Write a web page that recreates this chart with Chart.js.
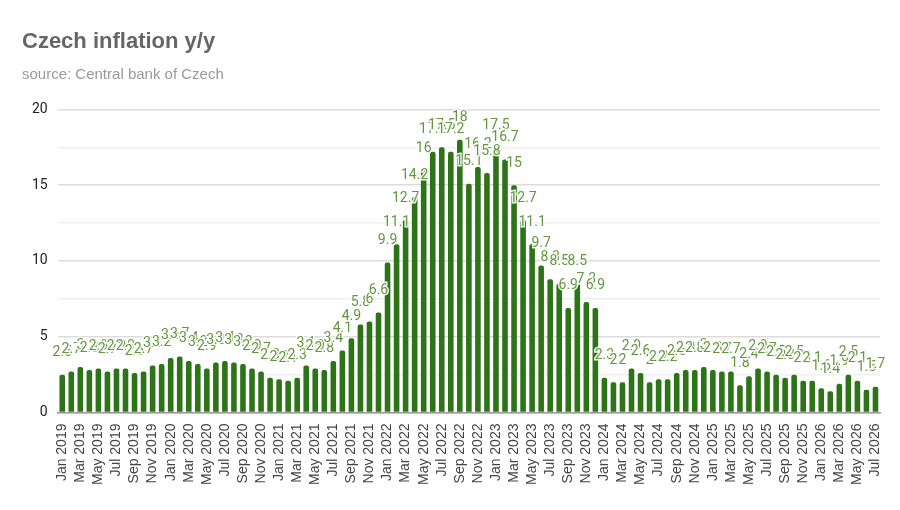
<!DOCTYPE html>
<html lang="en">
<head>
    <meta charset="UTF-8">
    <title>Czech inflation y/y</title>
    <style>
        * { margin: 0; padding: 0; box-sizing: border-box; }
        body { background: #fff; width: 900px; height: 510px; overflow: hidden; }
        .wrap { position: relative; width: 900px; height: 510px; }
    </style>
    <script src="https://cdn.jsdelivr.net/npm/chart.js"></script>
</head>
<body>
    <div class="wrap">
        <canvas id="inflationChart"></canvas>
    </div>

    <script>
        const months = ['Jan', 'Feb', 'Mar', 'Apr', 'May', 'Jun', 'Jul', 'Aug', 'Sep', 'Oct', 'Nov', 'Dec'];
        const years = [2019, 2020, 2021, 2022, 2023, 2024, 2025, 2026];

        // month labels, Jan 2019 .. Jul 2026
        const labels = [];
        years.forEach(y => months.forEach((m, i) => {
            if (y < 2026 || i < 7) labels.push(m + ' ' + y);
        }));

        const infl2019 = [2.5, 2.7, 3.0, 2.8, 2.9, 2.7, 2.9, 2.9, 2.6, 2.7, 3.1, 3.2];
        const infl2020 = [3.6, 3.7, 3.4, 3.2, 2.9, 3.3, 3.4, 3.3, 3.2, 2.9, 2.7, 2.3];
        const infl2021 = [2.2, 2.1, 2.3, 3.1, 2.9, 2.8, 3.4, 4.1, 4.9, 5.8, 6.0, 6.6];
        const infl2022 = [9.9, 11.1, 12.7, 14.2, 16.0, 17.2, 17.5, 17.2, 18.0, 15.1, 16.2, 15.8];
        const infl2023 = [17.5, 16.7, 15.0, 12.7, 11.1, 9.7, 8.8, 8.5, 6.9, 8.5, 7.3, 6.9];
        const infl2024 = [2.3, 2.0, 2.0, 2.9, 2.6, 2.0, 2.2, 2.2, 2.6, 2.8, 2.8, 3.0];
        const infl2025 = [2.8, 2.7, 2.7, 1.8, 2.4, 2.9, 2.7, 2.5, 2.3, 2.5, 2.1, 2.1];
        const infl2026 = [1.6, 1.4, 1.9, 2.5, 2.1, 1.5, 1.7];

        const values = [].concat(infl2019, infl2020, infl2021, infl2022, infl2023, infl2024, infl2025, infl2026);

        // value labels drawn above each bar
        const barLabels = {
            id: 'barLabels',
            afterDatasetsDraw(chart) {
                const ctx = chart.ctx;
                const meta = chart.getDatasetMeta(0);
                ctx.save();
                ctx.font = '14px Roboto';
                ctx.textAlign = 'center';
                ctx.textBaseline = 'middle';
                ctx.lineWidth = 3;
                ctx.strokeStyle = 'rgba(255,255,255,0.9)';
                ctx.fillStyle = '#64963f';
                meta.data.forEach((bar, i) => {
                    const txt = String(values[i]);
                    ctx.strokeText(txt, bar.x, bar.y - 22);
                    ctx.fillText(txt, bar.x, bar.y - 22);
                });
                ctx.restore();
            }
        };

        new Chart(document.getElementById('inflationChart'), {
            type: 'bar',
            data: {
                labels: labels,
                datasets: [{
                    label: 'Inflation y/y',
                    data: values,
                    backgroundColor: '#2d7418',
                    borderRadius: { topLeft: 2, topRight: 2 },
                    borderSkipped: 'bottom',
                    categoryPercentage: 1,
                    barPercentage: 0.62,
                }],
            },
            options: {
                responsive: true,
                maintainAspectRatio: false,
                animation: false,
                layout: { padding: { left: 22, right: 20, top: 0, bottom: 22 } },
                plugins: {
                    legend: { display: false },
                    tooltip: { enabled: false },
                    title: {
                        display: true,
                        text: 'Czech inflation y/y',
                        align: 'start',
                        color: '#666',
                        font: { family: 'Arial', size: 22, weight: 'bold' },
                        padding: { top: 29, bottom: 10 },
                    },
                    subtitle: {
                        display: true,
                        text: 'source: Central bank of Czech',
                        align: 'start',
                        color: '#9a9a9a',
                        font: { family: 'Arial', size: 15 },
                        padding: { bottom: 26 },
                    },
                },
                scales: {
                    x: {
                        grid: { display: false },
                        border: { color: '#999', width: 1.5 },
                        ticks: {
                            autoSkip: false,
                            maxRotation: 90,
                            minRotation: 90,
                            color: '#444',
                            font: { family: 'Arial', size: 14 },
                            callback: (v, i) => (i % 2 === 0 ? labels[i] : ''),
                        },
                    },
                    y: {
                        min: 0,
                        max: 20,
                        border: { display: false },
                        grid: {
                            color: c => (c.tick.value % 5 === 0 ? '#dcdcdc' : '#efefef'),
                            lineWidth: 1.5,
                            drawTicks: false,
                        },
                        ticks: {
                            stepSize: 2.5,
                            padding: 10,
                            color: '#222',
                            font: { family: 'Roboto', size: 14 },
                            callback: v => (v % 5 === 0 ? v : ''),
                        },
                    },
                },
            },
            plugins: [barLabels],
        });
    </script>
</body>
</html>
